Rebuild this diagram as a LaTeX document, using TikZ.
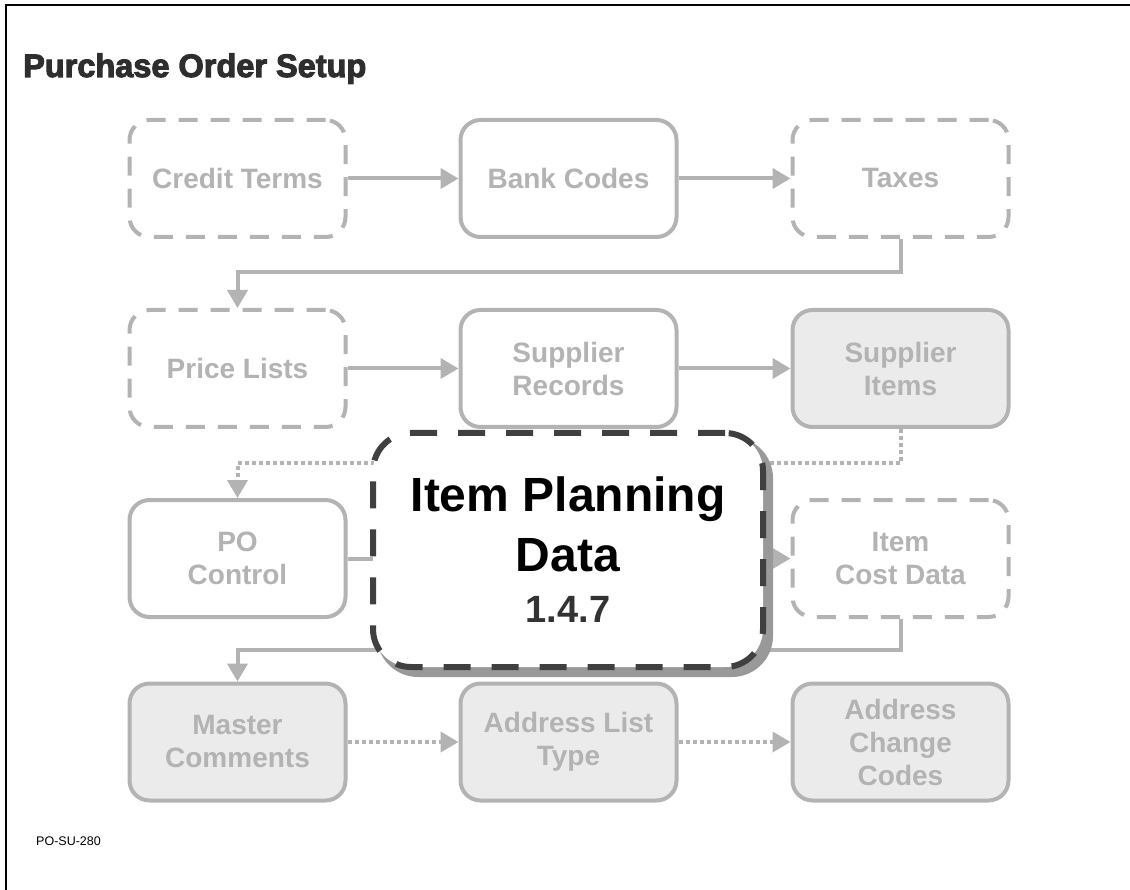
\documentclass[tikz,border=0pt]{standalone}
\usepackage{fontspec}
\setmainfont{Liberation Sans}
\newfontfamily\headfont[FakeBold=3.2]{Liberation Sans}
\usetikzlibrary{arrows.meta}
\definecolor{linegray}{HTML}{B3B3B3}
\definecolor{boxfill}{HTML}{EBEBEB}
\definecolor{darkdash}{HTML}{404040}
\definecolor{shadowgray}{HTML}{999999}
\definecolor{titlegray}{HTML}{2E2E2E}
\definecolor{numgray}{HTML}{333333}
\begin{document}
\begin{tikzpicture}[x=1pt,y=-1pt,
  stepbase/.style={rounded corners=20pt, minimum width=216pt, minimum height=117pt,
    line width=4pt, draw=linegray, text=linegray, align=center, inner sep=0pt,
    font=\fontsize{28}{33}\selectfont\bfseries},
  solidbox/.style={stepbase, fill=white},
  dashbox/.style={stepbase, fill=white, dash pattern=on 19pt off 13pt},
  shadedbox/.style={stepbase, fill=boxfill},
  flow/.style={draw=linegray, line width=4pt, -{Triangle[length=18pt,width=20pt]}},
  dotflow/.style={flow, dash pattern=on 4pt off 3pt},
  bigbox/.style={rounded corners=38pt, minimum width=390pt, minimum height=234pt,
    line width=6pt, inner sep=0pt},
]
\useasboundingbox (0,0) rectangle (1130,890);

% page frame (top and left edges)
\draw[line width=2.2pt] (6,890) -- (6,5) -- (1130,5);

% title and slide code
\node[anchor=base west, inner sep=0pt, text=titlegray,
  font=\headfont\bfseries\fontsize{32.5}{38}\selectfont] (title) at (23,77) {Purchase Order Setup};
\node[anchor=base west, inner sep=0pt, font=\fontsize{12.5}{15}\selectfont] (code) at (36,845) {PO-SU-280};

% process steps
\node[dashbox]   (credit)   at (237.5,178.5) {Credit Terms};
\node[solidbox]  (bank)     at (568.5,178.5) {Bank Codes};
\node[dashbox]   (taxes)    at (900.5,178.5) {Taxes};
\node[dashbox]   (price)    at (237.5,368.5) {Price Lists};
\node[solidbox]  (suprec)   at (568.5,368.5) {Supplier\\Records};
\node[shadedbox] (supitem)  at (900.5,368.5) {Supplier\\Items};
\node[solidbox]  (poctl)    at (237.5,558.5) {PO\\Control};
\node[dashbox]   (cost)     at (900.5,558.5) {Item\\Cost Data};
\node[shadedbox] (master)   at (237.5,742)   {Master\\Comments};
\node[shadedbox] (addrlist) at (568.5,742)   {Address List\\Type};
\node[shadedbox] (addrchg)  at (900.5,742)   {Address\\Change\\Codes};

% routing levels between rows
\coordinate (lane1) at (0,272);
\coordinate (lane2) at (0,463);
\coordinate (lane3) at (0,650);

% connectors
\draw[flow] (credit) -- (bank);
\draw[flow] (bank) -- (taxes);
\draw[flow] (taxes.south) -- (taxes.south |- lane1) -| (price.north);
\draw[flow] (price) -- (suprec);
\draw[flow] (suprec) -- (supitem);
\draw[dotflow] (supitem.south) -- (supitem.south |- lane2) -| (poctl.north);
\draw[flow] (poctl) -- (cost);
\draw[flow] (cost.south) -- (cost.south |- lane3) -| (master.north);
\draw[dotflow] (master) -- (addrlist);
\draw[dotflow] (addrlist) -- (addrchg);

% highlighted step with its shadow
\node[bigbox, fill=shadowgray, draw=shadowgray] (ipdshadow) at (575,557) {};
\node[bigbox, fill=white, draw=darkdash, dash pattern=on 27pt off 21pt, align=center,
  font=\fontsize{48}{60}\selectfont\bfseries] (ipd) at (568,550)
  {Item Planning\\Data\\[-9pt]{\color{numgray}\fontsize{38}{46}\selectfont 1.4.7}};
\end{tikzpicture}
\end{document}
